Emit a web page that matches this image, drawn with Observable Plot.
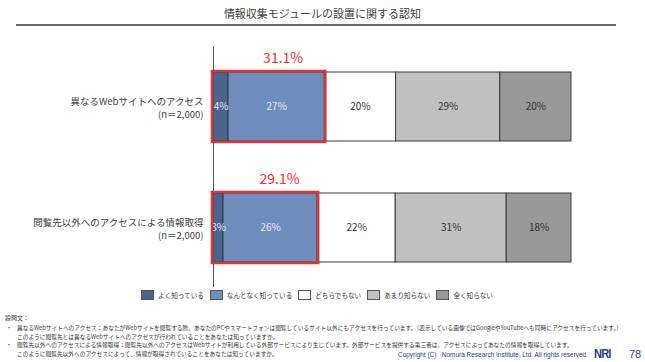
<!DOCTYPE html>
<html><head><meta charset="utf-8">
<script src="https://cdn.jsdelivr.net/npm/d3@7"></script>
<script src="https://cdn.jsdelivr.net/npm/@observablehq/plot@0.6"></script>
<style>
body{margin:0;background:#fff;font-family:"Noto Sans CJK JP","Noto Sans",sans-serif;}
#wrap{position:relative;width:645px;height:362px;overflow:hidden;}
#chart{position:absolute;left:0;top:0;}
.abs{position:absolute;white-space:nowrap;}
#title{left:0;width:645px;text-align:center;top:5px;font-size:11px;color:#404040;}
#rule{left:16px;top:24px;width:600px;height:2px;background:#666;}
#legend{top:290px;left:141px;font-size:6.6px;color:#333;display:flex;align-items:center;}
#legend .it{display:flex;align-items:center;margin-right:6px;}
#legend .sw{width:11px;height:8px;border:1px solid #555;margin-right:4px;}
.note{font-size:6px;color:#333;line-height:8px;transform-origin:0 0;}
#copy{left:398px;top:351px;font-size:6.5px;line-height:8px;color:#1e3d8f;font-family:"Liberation Sans","Noto Sans",sans-serif;transform-origin:0 0;}
#nri{left:594px;top:346px;font-size:13px;line-height:15px;font-weight:bold;color:#1e3d8f;font-family:"Liberation Sans",sans-serif;letter-spacing:-1px;transform:scaleX(0.85);transform-origin:0 0;}
#page{left:629px;top:347px;font-size:11px;line-height:14px;color:#1e3d8f;font-family:"Liberation Sans",sans-serif;}
</style></head>
<body><div id="wrap">
<div id="chart"></div>
<div class="abs" id="title">情報収集モジュールの設置に関する認知</div>
<div class="abs" id="rule"></div>
<div class="abs" id="legend"></div>
<div class="abs note" style="left:5px;top:314px;">設問文：</div>
<div class="abs note" style="left:6px;top:324px;">・</div>
<div class="abs note fit" id="n1" style="left:17px;top:324px;">異なるWebサイトへのアクセス：あなたがWebサイトを閲覧する際、あなたのPCやスマートフォンは閲覧しているサイト以外にもアクセスを行っています。（表示している画像ではGoogleやYouTubeへも同時にアクセスを行っています。）</div>
<div class="abs note fit" style="left:17px;top:332.5px;">このように閲覧先とは異なるWebサイトへのアクセスが行われていることをあなたは知っていますか。</div>
<div class="abs note" style="left:6px;top:341px;">・</div>
<div class="abs note fit" style="left:17px;top:341px;">閲覧先以外へのアクセスによる情報取得：閲覧先以外へのアクセスはWebサイトが利用している外部サービスにより生じています。外部サービスを提供する第三者は、アクセスによってあなたの情報を取得しています。</div>
<div class="abs note fit" style="left:17px;top:349.5px;">このように閲覧先以外へのアクセスによって、情報が取得されていることをあなたは知っていますか。</div>
<div class="abs" id="copy">Copyright (C)&nbsp;&nbsp; Nomura Research Institute, Ltd. All rights reserved.</div>
<div class="abs" id="nri">NRI</div>
<div class="abs" id="page">78</div>
</div>
<script>
const categories = ["異なるWebサイトへのアクセス", "閲覧先以外へのアクセスによる情報取得"];
const sampleLabel = "(n＝2,000)";
const responses = ["よく知っている", "なんとなく知っている", "どちらでもない", "あまり知らない", "全く知らない"];
const colors = ["#4a6491", "#6f8ebe", "#ffffff", "#c0c0c0", "#999999"];
const textColors = ["#e6ecf5", "#e6ecf5", "#333333", "#333333", "#333333"];
const values1 = [4.2, 26.9, 19.9, 29.1, 19.9];
const values2 = [2.8, 26.3, 21.8, 31.0, 18.1];

const seriesValues = [values1, values2];
const data = [];
categories.forEach((c, i) => responses.forEach((r, j) => data.push({cat: c, resp: r, ri: j, value: seriesValues[i][j]})));
const totals = categories.map((c, i) => ({cat: c, total: seriesValues[i][0] + seriesValues[i][1]}));

const chart = Plot.plot({
  width: 645, height: 362,
  marginLeft: 213, marginRight: 74, marginTop: 46, marginBottom: 75,
  style: {fontFamily: '"Noto Sans CJK JP", sans-serif', background: "transparent"},
  x: {domain: [0, 100], axis: null},
  y: {domain: categories, paddingInner: 0.43, paddingOuter: 0.21, axis: null},
  color: {domain: responses, range: colors},
  marks: [
    Plot.ruleX([0], {stroke: "#555", strokeWidth: 1}),
    Plot.barX(data, Plot.stackX({x: "value", y: "cat", z: "ri", fill: "resp", stroke: "#3a3a3a", strokeWidth: 1, inset: 0})),
    Plot.text(data, Plot.stackX({x: "value", y: "cat", z: "ri", text: d => Math.round(d.value) + "%", fill: d => textColors[d.ri], fontSize: 10})),
    Plot.barX(totals, {x1: 0, x2: "total", y: "cat", fill: "none", stroke: "#e03535", strokeWidth: 2.5, inset: -1}),
    Plot.text(totals, {x: d => d.total / 2, y: "cat", dy: -48, dx: 14, text: d => d.total.toFixed(1) + "%", fill: "#ff2a2a", fontSize: 14}),
    Plot.axisY({tickSize: 0, tickPadding: 10, label: null, fontSize: 9.5, fill: "#404040", lineHeight: 1.35, tickFormat: d => d + "\n" + sampleLabel})
  ]
});
document.getElementById("chart").append(chart);

const legend = document.getElementById("legend");
responses.forEach((r, j) => {
  const it = document.createElement("div"); it.className = "it";
  const sw = document.createElement("div"); sw.className = "sw"; sw.style.background = colors[j];
  const tx = document.createElement("span"); tx.textContent = r;
  it.append(sw, tx); legend.append(it);
});

// fit footnote lines to the reference's text width
const n1 = document.getElementById("n1");
const s = Math.min(1, 605 / n1.getBoundingClientRect().width);
document.querySelectorAll(".fit").forEach(el => el.style.transform = `scaleX(${s})`);
const cp = document.getElementById("copy");
const cs = Math.min(1, 190 / cp.getBoundingClientRect().width);
cp.style.transform = `scaleX(${cs})`;
</script>
</body></html>
